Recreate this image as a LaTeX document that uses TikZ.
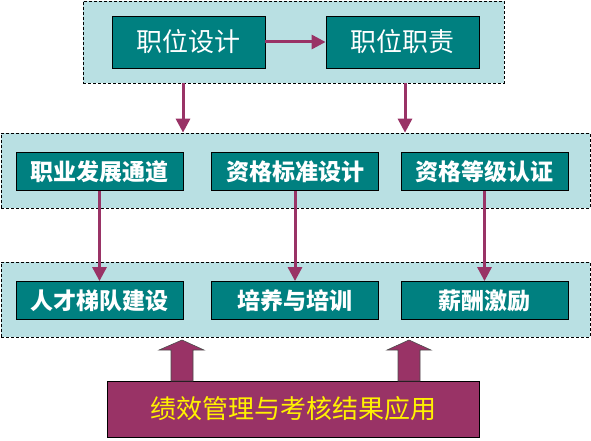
\documentclass[tikz,border=0pt]{standalone}
\usepackage{fontspec}
\usepackage{tikz}
\usetikzlibrary{arrows.meta}
\newfontfamily\cjk{Noto Sans CJK SC}
\definecolor{boxcol}{RGB}{0,128,128}
\definecolor{panelcol}{RGB}{185,224,227}
\definecolor{arrowcol}{RGB}{153,51,102}

\begin{document}
\begin{tikzpicture}[x=1pt,y=-1pt,
  panel/.style={draw=black,dash pattern=on 3pt off 2pt,line width=0.7pt,fill=panelcol,inner sep=0pt},
  topbox/.style={draw=black,line width=0.8pt,fill=boxcol,text=white,inner sep=0pt,minimum width=153pt,minimum height=52pt,font=\cjk\fontsize{26}{26}\selectfont},
  rowbox/.style={draw=black,line width=0.8pt,fill=boxcol,text=white,inner sep=0pt,minimum width=167pt,minimum height=38pt,font=\cjk\bfseries\fontsize{23}{23}\selectfont},
  link/.style={draw=arrowcol,line width=3pt,-{Triangle[width=14pt,length=14pt]}},
  bigarrow/.style={draw=black!70,line width=0.6pt,fill=arrowcol}]
\useasboundingbox (0,0) rectangle (591,441);

% three panels
\node[panel,minimum width=421pt,minimum height=82pt] (T1) at (293.5,42) {};
\node[panel,minimum width=589pt,minimum height=75pt] (T2) at (295.5,170.5) {};
\node[panel,minimum width=589pt,minimum height=75pt] (T3) at (295.5,299.5) {};

% boxes
\node[topbox] (A) at (188.5,42) {职位设计};
\node[topbox] (B) at (402.5,42) {职位职责};
\node[rowbox] (C) at (99.5,171.5) {职业发展通道};
\node[rowbox] (D) at (295,171.5) {资格标准设计};
\node[rowbox] (E) at (484.5,171.5) {资格等级认证};
\node[rowbox] (F) at (99.5,300.5) {人才梯队建设};
\node[rowbox] (G) at (295,300.5) {培养与培训};
\node[rowbox] (H) at (484.5,300.5) {薪酬激励};
\node[draw=black,line width=0.8pt,fill=arrowcol,text=yellow,inner sep=0pt,minimum width=372pt,minimum height=56pt,font=\cjk\fontsize{26}{26}\selectfont] (K) at (293,409) {绩效管理与考核结果应用};

% arrows
\coordinate (p) at (183,83);
\coordinate (q) at (405,83);
\draw [link] (A) -- (B);
\draw [link] (p) -- (p |- T2.north);
\draw [link] (q) -- (q |- T2.north);
\draw [link] (C.south) -- (F.north);
\draw [link] (D.south) -- (G.north);
\draw [link] (E.south) -- (H.north);

% block arrows
\draw[bigarrow] (171,381) -- (171,350) -- (159,350) -- (182,340) -- (204,350) -- (193,350) -- (193,381) -- cycle;
\draw[bigarrow] (398,381) -- (398,350) -- (387,350) -- (409,340) -- (431,350) -- (420,350) -- (420,381) -- cycle;
\end{tikzpicture}
\end{document}
